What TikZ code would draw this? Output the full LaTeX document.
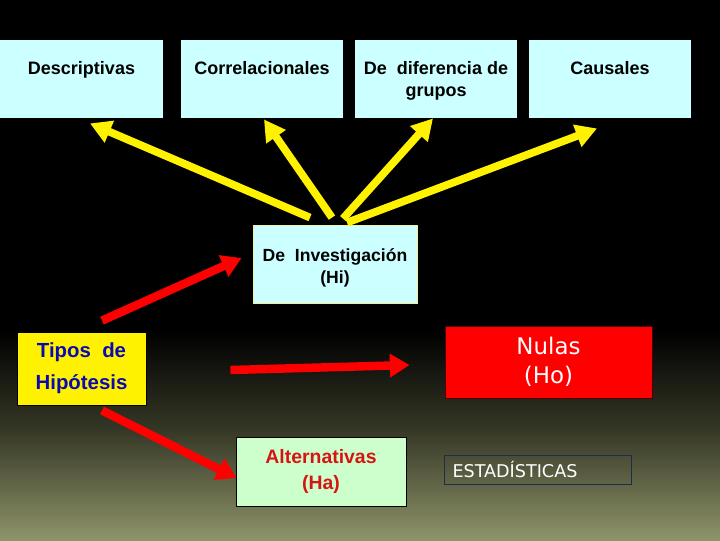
\documentclass[tikz,border=0pt]{standalone}
\usepackage{fontspec}
\setmainfont{Liberation Sans}
\newfontfamily\tahoma{DejaVu Sans}
\usetikzlibrary{arrows.meta}

\definecolor{celeste}{RGB}{204,255,255}
\definecolor{verdeclaro}{RGB}{204,255,204}
\definecolor{azultipos}{RGB}{10,10,180}
\definecolor{rojoalt}{RGB}{215,20,20}
\definecolor{oliva}{RGB}{142,148,106}
\definecolor{olivaosc}{RGB}{54,56,38}
\definecolor{bordeazul}{RGB}{30,45,75}
\definecolor{bordehi}{RGB}{240,240,150}

\def\px{0.025cm}

\tikzset{
  caja/.style={rectangle, inner sep=0pt, line width=0.6pt},
  textoarriba/.style={anchor=north, inner sep=0pt, align=center,
    font=\fontsize{12.8}{15.5}\selectfont\bfseries},
  flechaam/.style={draw=yellow, line width=5.5pt,
    -{Triangle[length=15pt,width=16pt]}},
  flecharoja/.style={draw=red, line width=6pt,
    -{Triangle[length=14pt,width=16pt]}}
}

\begin{document}
\begin{tikzpicture}[x=\px, y=-\px]
  \useasboundingbox (0,0) rectangle (720,540);
  % fondo
  \fill[black] (0,0) rectangle (720,331);
  \shade[top color=black, bottom color=olivaosc] (0,330) rectangle (720,431);
  \shade[top color=olivaosc, bottom color=oliva] (0,430) rectangle (720,540);
  %
  \def\filaA{79};
  \def\filaAtexto{61.5};
  \node[caja, fill=celeste, minimum width=163*\px, minimum height=78*\px] (desc) at (81.5,\filaA) {};
  \node[caja, fill=celeste, minimum width=162*\px, minimum height=78*\px] (corr) at (262,\filaA) {};
  \node[caja, fill=celeste, minimum width=162*\px, minimum height=78*\px] (dif) at (436,\filaA) {};
  \node[caja, fill=celeste, minimum width=162*\px, minimum height=78*\px] (caus) at (610,\filaA) {};
  \node[textoarriba] (desc-t) at (81.5,\filaAtexto) {Descriptivas};
  \node[textoarriba] (corr-t) at (262,\filaAtexto) {Correlacionales};
  \node[textoarriba] (dif-t) at (436,\filaAtexto) {De\ \ diferencia de\\grupos};
  \node[textoarriba] (caus-t) at (610,\filaAtexto) {Causales};
  %
  \node[caja, draw=bordehi, fill=celeste, minimum width=164*\px, minimum height=78*\px] (hi) at (335,264) {};
  \node[textoarriba, font=\fontsize{12.5}{15.6}\selectfont\bfseries] (hi-t) at (335,248.5)
    {De\ \ Investigación\\(Hi)};
  \node[caja, draw=black, fill=yellow, minimum width=129*\px, minimum height=73*\px,
    align=center, text=azultipos, font=\fontsize{14.5}{22.8}\selectfont\bfseries] (tipos) at (81.5,368.5)
    {Tipos\ \ de\\Hipótesis};
  \node[caja, draw=black!70!red, fill=red, minimum width=207*\px, minimum height=72*\px,
    align=center, text=white, font=\tahoma\fontsize{16.3}{21}\selectfont] (nulas) at (548.5,362)
    {Nulas\\(Ho)};
  \node[caja, draw=black, fill=verdeclaro, minimum width=170*\px, minimum height=69*\px,
    align=center, text=rojoalt, font=\fontsize{13.8}{19}\selectfont\bfseries] (alt) at (321,471.5)
    {Alternativas\\(Ha)};
  \node[caja, draw=bordeazul, minimum height=29*\px, text width=170*\px, inner xsep=8.5*\px,
    align=left, text=white, font=\tahoma\fontsize{12.5}{15}\selectfont] (est) at (537.5,469.5)
    {ESTADÍSTICAS};
  % flechas amarillas
  \draw[flechaam] ([shift={(-25,-7)}]hi.north) -- ([shift={(8.5,5)}]desc.south);
  \draw[flechaam] ([shift={(-3,-7)}]hi.north) -- ([shift={(2,1)}]corr.south);
  \draw[flechaam] ([shift={(8,-6)}]hi.north) -- ([shift={(-3,0)}]dif.south);
  \draw[flechaam] ([shift={(12,-2)}]hi.north) -- ([shift={(-13,10)}]caus.south);
  % flechas rojas
  \draw[flecharoja] ([shift={(20.5,-11)}]tipos.north) -- ([shift={(-11,-6)}]hi.west);
  \draw[flecharoja] ([shift={(84,1.5)}]tipos.east) -- ([shift={(-35,3)}]nulas.west);
  \draw[flecharoja] ([shift={(20.5,5)}]tipos.south) -- ([shift={(1,6.5)}]alt.west);
\end{tikzpicture}
\end{document}
